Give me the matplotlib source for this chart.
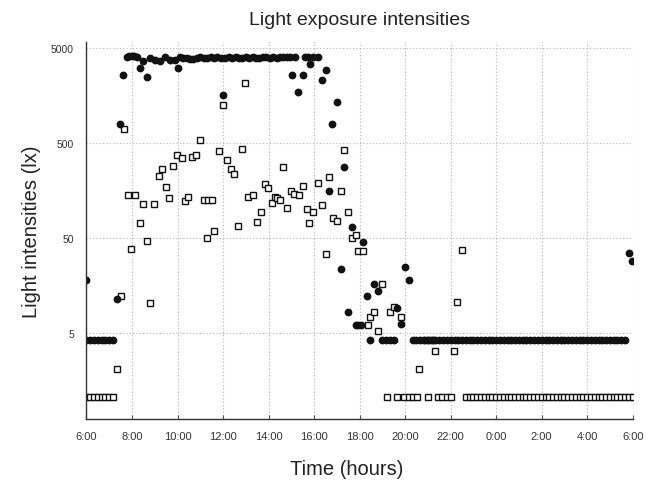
import matplotlib
matplotlib.use("Agg")
import matplotlib.pyplot as plt

plt.rcParams['font.family'] = ['Liberation Sans', 'DejaVu Sans']

# time in hours since midnight of day 1 (24-30 = next morning)
circle_t = [6.00, 6.00, 6.17, 6.33, 6.50, 6.67, 6.83, 7.00, 7.17,
            7.35, 7.47, 7.62, 7.77, 7.88, 7.98, 8.10, 8.20, 8.35, 8.50, 8.65,
            8.79, 9.00, 9.23, 9.45, 9.67, 9.89, 10.00, 10.10, 10.25, 10.40,
            10.55, 10.70, 10.85, 11.00, 11.15, 11.30, 11.45, 11.60, 11.75, 11.90,
            12.00, 12.10, 12.25, 12.40, 12.55, 12.70, 12.85, 13.00, 13.15, 13.30,
            13.45, 13.60, 13.75, 13.90, 14.05, 14.20, 14.35, 14.50, 14.65, 14.80,
            14.95, 15.02, 15.17, 15.31, 15.53, 15.60, 15.75, 15.82, 15.97, 16.19,
            16.34, 16.53, 16.67, 16.78, 17.00, 17.17, 17.32, 17.51, 17.66, 17.83,
            17.95, 18.05, 18.17, 18.34, 18.47, 18.65, 18.83, 19.00, 19.17, 19.33,
            19.50, 19.64, 19.81, 20.00, 20.18]
circle_v = [18, 4.2, 4.2, 4.2, 4.2, 4.2, 4.2, 4.2, 4.2,
            11.3, 790, 2560, 4000, 4100, 4100, 4050, 4000, 3050, 3600, 2450,
            3900, 3700, 3600, 4000, 3700, 3750, 3050, 4000, 3950, 3900,
            3850, 3800, 3950, 4000, 3950, 3900, 4000, 3950, 4000, 3900,
            1600, 3950, 4000, 3900, 4000, 3950, 3900, 4000, 3950, 4000,
            3900, 3950, 4000, 4000, 3950, 4000, 3900, 4000, 4000, 4000,
            4000, 2560, 4000, 1710, 2560, 4000, 4000, 3400, 4000, 4000,
            2270, 2930, 155, 790, 1360, 23.6, 278, 8.2, 65, 6.1,
            6.1, 6.1, 45, 12.3, 4.2, 16.5, 13.7, 4.2, 4.2, 4.2,
            4.2, 9.2, 6.2, 24.6, 18]

# night plateau of the filled series, 20:20 to 5:40
night_circle_t = [20.33, 20.50, 20.67, 20.83,
                  21.00, 21.17, 21.33, 21.50, 21.67, 21.83,
                  22.00, 22.17, 22.33, 22.50, 22.67, 22.83,
                  23.00, 23.17, 23.33, 23.50, 23.67, 23.83,
                  24.00, 24.17, 24.33, 24.50, 24.67, 24.83,
                  25.00, 25.17, 25.33, 25.50, 25.67, 25.83,
                  26.00, 26.17, 26.33, 26.50, 26.67, 26.83,
                  27.00, 27.17, 27.33, 27.50, 27.67, 27.83,
                  28.00, 28.17, 28.33, 28.50, 28.67, 28.83,
                  29.00, 29.17, 29.33, 29.50, 29.67]
night_circle_level = 4.2
dawn_circle_t = [29.82, 29.96]
dawn_circle_v = [34.7, 28.8]

square_t = [6.00, 6.17, 6.33, 6.50, 6.67, 6.83, 7.00, 7.17,
            7.35, 7.52, 7.65, 7.84, 7.96, 8.13, 8.35, 8.50, 8.65, 8.80, 8.97,
            9.19, 9.33, 9.49, 9.64, 9.79, 9.99, 10.18, 10.33, 10.47, 10.62,
            10.80, 10.99, 11.18, 11.31, 11.35, 11.50, 11.62, 11.84, 11.99, 12.16,
            12.34, 12.48, 12.67, 12.84, 12.97, 13.11, 13.30, 13.48, 13.67, 13.85,
            13.99, 14.14, 14.29, 14.39, 14.50, 14.65, 14.80, 14.98, 15.12, 15.34,
            15.53, 15.68, 15.79, 15.94, 16.16, 16.34, 16.53, 16.67, 16.81, 17.00,
            17.17, 17.32, 17.51, 17.66, 17.83, 17.95, 18.17, 18.36, 18.46, 18.65,
            18.83, 19.00, 19.20, 19.34, 19.49, 19.64, 19.82, 19.96, 20.15, 20.34,
            20.54, 20.63, 20.93, 21.00, 21.16, 21.32, 21.46, 21.64, 21.82, 22.00,
            22.15, 22.30, 22.52]
square_v = [1.06, 1.06, 1.06, 1.06, 1.06, 1.06, 1.06, 1.06,
            2.06, 12.3, 700, 142, 38, 142, 72, 114, 46, 10.4, 114,
            226, 267, 170, 132, 288, 368, 350, 121, 136, 355,
            368, 537, 126, 50, 126, 126, 59, 405, 1255, 327,
            267, 237, 66, 425, 2140, 136, 142, 73, 94, 186,
            168, 117, 136, 130, 126, 278, 102, 154, 146, 142,
            175, 101, 72, 94, 189, 110, 34, 218, 81, 76,
            155, 422, 93, 50, 53, 36, 36, 6.1, 7.4, 8.2,
            5.2, 16.5, 1.06, 8.2, 9.3, 1.06, 7.4, 1.06, 1.06, 1.06,
            1.06, 2.06, 4.2, 1.06, 4.2, 3.2, 1.06, 1.06, 1.06, 1.06,
            3.2, 10.6, 37]

# night plateau of the open series, 22:40 to 6:00
night_square_t = [22.67, 22.83,
                  23.00, 23.17, 23.33, 23.50, 23.67, 23.83,
                  24.00, 24.17, 24.33, 24.50, 24.67, 24.83,
                  25.00, 25.17, 25.33, 25.50, 25.67, 25.83,
                  26.00, 26.17, 26.33, 26.50, 26.67, 26.83,
                  27.00, 27.17, 27.33, 27.50, 27.67, 27.83,
                  28.00, 28.17, 28.33, 28.50, 28.67, 28.83,
                  29.00, 29.17, 29.33, 29.50, 29.67, 29.83, 30.00]
night_square_level = 1.06

tick_hours = [6, 8, 10, 12, 14, 16, 18, 20, 22, 24, 26, 28, 30]
tick_labels = ['6:00', '8:00', '10:00', '12:00', '14:00', '16:00', '18:00',
               '20:00', '22:00', '0:00', '2:00', '4:00', '6:00']
y_ticks = [5, 50, 500, 5000]

fig = plt.figure(figsize=(6.55, 4.81), dpi=100)
ax = fig.add_axes([0.132, 0.127, 0.834, 0.784])

ax.set_yscale('log')
ax.set_xlim(6, 30)
ax.set_ylim(0.62, 5780)

sq_style = dict(marker='s', markersize=4.2, markerfacecolor='white',
                markeredgecolor='#111111', markeredgewidth=1.0, linestyle='none')
ci_style = dict(marker='o', markersize=4.6, color='#111111', linestyle='none')

ax.plot(square_t, square_v, **sq_style)
ax.plot(night_square_t, [night_square_level] * len(night_square_t), **sq_style)
ax.plot(circle_t, circle_v, **ci_style)
ax.plot(night_circle_t, [night_circle_level] * len(night_circle_t), **ci_style)
ax.plot(dawn_circle_t, dawn_circle_v, **ci_style)

ax.set_xticks(tick_hours)
ax.set_xticklabels(tick_labels, fontsize=8, color='#333333')
ax.set_yticks(y_ticks)
ax.set_yticklabels([str(v) for v in y_ticks], fontsize=7.5, color='#333333')
ax.yaxis.set_minor_locator(matplotlib.ticker.NullLocator())
ax.tick_params(axis='x', length=3, direction='in', pad=9, color='#555555')
ax.tick_params(axis='y', length=0, pad=9)

ax.grid(True, color='#b5b5b5', linestyle=(0, (1, 2)), linewidth=0.8)
ax.set_axisbelow(True)
for s in ['top', 'right']:
    ax.spines[s].set_visible(False)
for s in ['left', 'bottom']:
    ax.spines[s].set_color('#333333')
    ax.spines[s].set_linewidth(1.0)

ax.set_title('Light exposure intensities', fontsize=14, color='#222222', pad=13)
ax.set_xlabel('Time (hours)', fontsize=14.5, color='#222222')
ax.xaxis.set_label_coords(0.476, -0.105)
ax.set_ylabel('Light intensities (lx)', fontsize=14.5, color='#222222')
ax.yaxis.set_label_coords(-0.083, 0.5)

plt.savefig('out.png', dpi=100)
